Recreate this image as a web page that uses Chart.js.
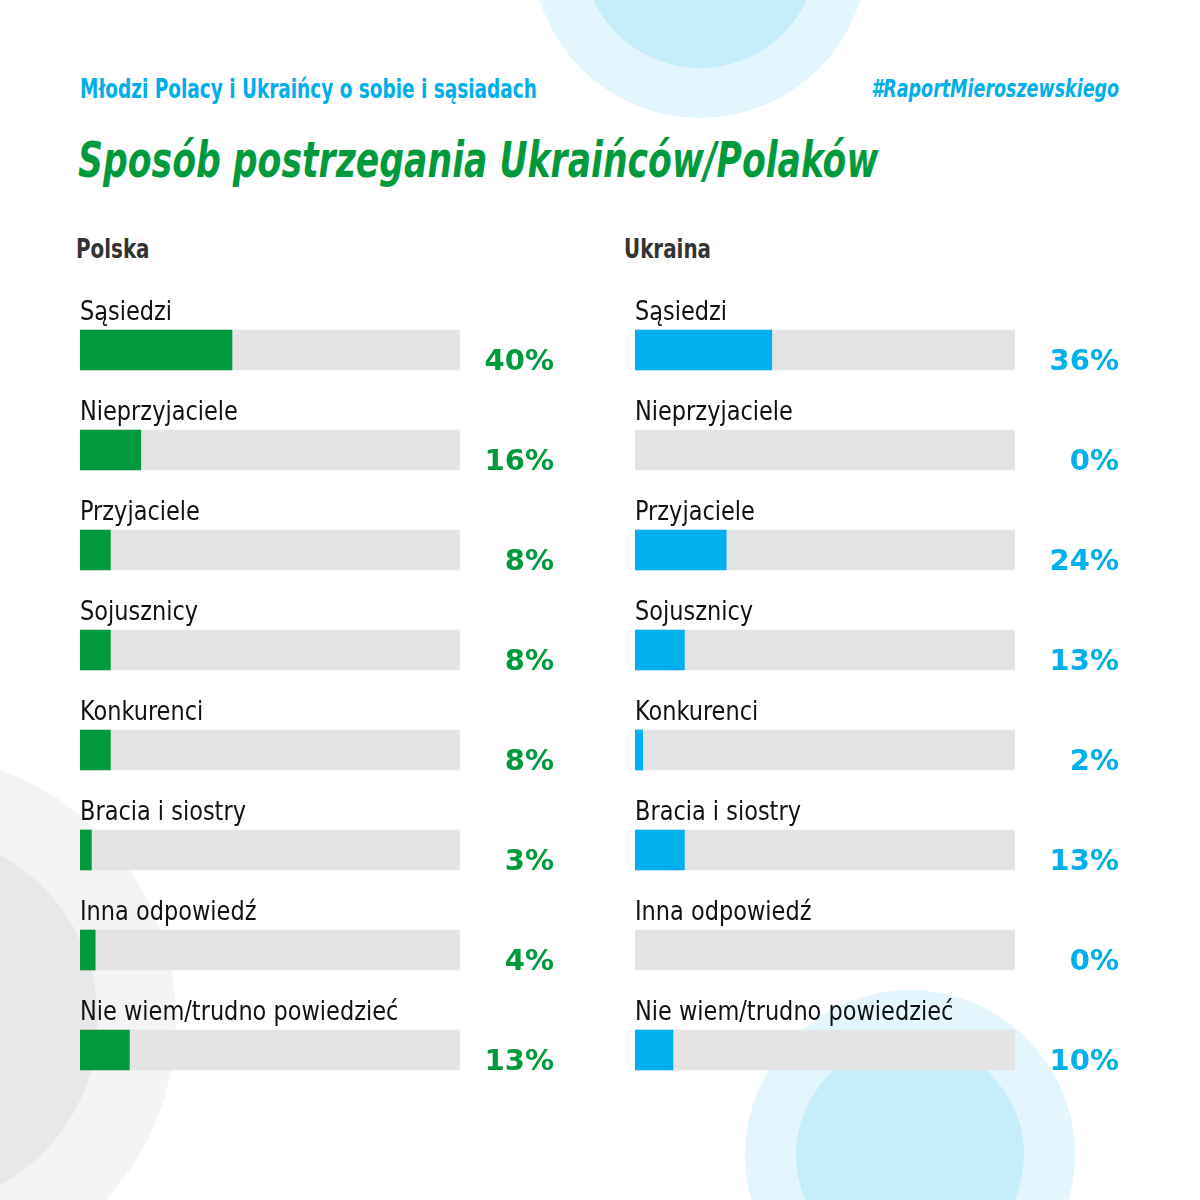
<!DOCTYPE html>
<html>
<head>
<meta charset="utf-8">
<script src="https://cdn.jsdelivr.net/npm/chart.js@4.4.1/dist/chart.umd.min.js"></script>
<style>
  body { margin: 0; background: #fff; }
  #page { position: relative; width: 1200px; height: 1200px; overflow: hidden; background: #fff; }
  .circle { position: absolute; border-radius: 50%; }
  .txt { position: absolute; white-space: nowrap; font-family: 'DejaVu Sans Condensed', 'DejaVu Sans', sans-serif; }
  #sub { left: 80px; top: 74px; font-size: 26px; font-weight: 600; color: #00aee9; transform: scaleX(0.79); transform-origin: left top; }
  #tag { right: 81px; top: 75px; font-size: 24px; font-style: italic; font-weight: 600; color: #00aee9; transform: scaleX(0.81); transform-origin: right top; }
  #title { left: 78px; top: 131px; font-size: 50px; font-style: italic; font-weight: 700; color: #009a3d; transform: scaleX(0.77); transform-origin: left top; }
  .panel { top: 234px; font-size: 26px; font-weight: 700; color: #333; transform: scaleX(0.85); transform-origin: left top; }
  canvas { position: absolute; }
</style>
</head>
<body>
<div id="page">
  <div class="circle" style="left:532px;top:-218px;width:336px;height:336px;background:#e4f6fd"></div>
  <div class="circle" style="left:582px;top:-168px;width:236px;height:236px;background:#c6edfa"></div>
  <div class="circle" style="left:745px;top:990px;width:330px;height:330px;background:#e4f6fd"></div>
  <div class="circle" style="left:796px;top:1041px;width:228px;height:228px;background:#c6edfa"></div>
  <div class="circle" style="left:-356px;top:754px;width:532px;height:532px;background:#f4f4f4"></div>
  <div class="circle" style="left:-278px;top:832px;width:376px;height:376px;background:#e8e8e8"></div>

  <div id="sub" class="txt">Młodzi Polacy i Ukraińcy o sobie i sąsiadach</div>
  <div id="tag" class="txt">#RaportMieroszewskiego</div>
  <div id="title" class="txt">Sposób postrzegania Ukraińców/Polaków</div>
  <div class="txt panel" style="left:76px">Polska</div>
  <div class="txt panel" style="left:624px">Ukraina</div>

  <canvas id="plChart" style="left:0;top:280px" width="600" height="820"></canvas>
  <canvas id="uaChart" style="left:555px;top:280px" width="600" height="820"></canvas>
</div>
<script>
var categories = ["Sąsiedzi", "Nieprzyjaciele", "Przyjaciele", "Sojusznicy", "Konkurenci", "Bracia i siostry", "Inna odpowiedź", "Nie wiem/trudno powiedzieć"];
var polskaValues = [40, 16, 8, 8, 8, 3, 4, 13];
var ukrainaValues = [36, 0, 24, 13, 2, 13, 0, 10];
var trackValues = [100, 100, 100, 100, 100, 100, 100, 100];

var labelFont = "'DejaVu Sans Condensed', 'DejaVu Sans', sans-serif";
var valueFont = "'DejaVu Sans', sans-serif";

var barTextPlugin = {
  id: 'barText',
  afterDatasetsDraw: function(chart, args, opts) {
    var ctx = chart.ctx;
    var meta = chart.getDatasetMeta(0);
    var color = opts.color;
    var area = chart.chartArea;
    ctx.save();
    meta.data.forEach(function(bar, i) {
      var top = bar.y - bar.height / 2;
      var bottom = bar.y + bar.height / 2;
      // category label above the track
      ctx.save();
      ctx.translate(area.left, top - 10);
      ctx.scale(0.96, 1);
      ctx.fillStyle = '#111';
      ctx.font = '26px ' + labelFont;
      ctx.textAlign = 'left';
      ctx.textBaseline = 'alphabetic';
      ctx.fillText(chart.data.labels[i], 0, 0);
      ctx.restore();
      // value at the right
      ctx.fillStyle = color;
      ctx.font = 'bold 29px ' + valueFont;
      ctx.textAlign = 'right';
      ctx.textBaseline = 'alphabetic';
      ctx.fillText(chart.data.datasets[0].data[i] + '%', area.right + opts.offset, bottom);
    });
    ctx.restore();
  }
};

function makeChart(id, values, color, offset) {
  new Chart(document.getElementById(id), {
    type: 'bar',
    data: {
      labels: categories,
      datasets: [
        {
          data: values,
          backgroundColor: values.map(function(v) { return v > 0 ? color : 'rgba(0,0,0,0)'; }),
          barThickness: 40, grouped: false, order: 0
        },
        { data: trackValues, backgroundColor: '#e4e4e4', barThickness: 40, grouped: false, order: 1 }
      ]
    },
    options: {
      indexAxis: 'y',
      responsive: false,
      animation: false,
      layout: { padding: { left: 80, right: 140, top: 20, bottom: 0 } },
      scales: {
        x: { display: false, min: 0, max: 100 },
        y: { display: false }
      },
      plugins: {
        legend: { display: false },
        tooltip: { enabled: false },
        barText: { color: color, offset: offset }
      }
    },
    plugins: [barTextPlugin]
  });
}

makeChart('plChart', polskaValues, '#009a3d', 94);
makeChart('uaChart', ukrainaValues, '#00b0ec', 104);
</script>
</body>
</html>
